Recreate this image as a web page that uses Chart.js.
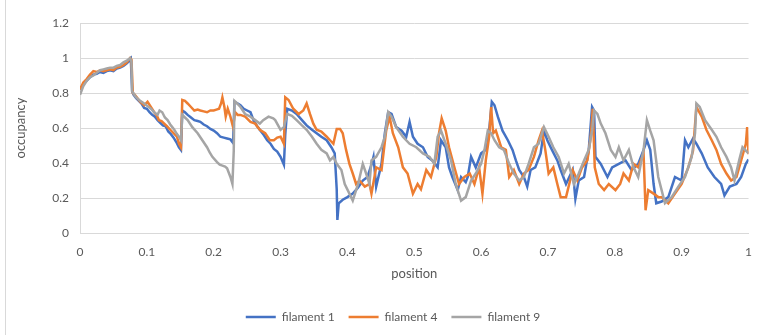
<!DOCTYPE html>
<html>
<head>
<meta charset="utf-8">
<script src="https://cdn.jsdelivr.net/npm/chart.js@4.4.0/dist/chart.umd.min.js"></script>
<style>
  html, body { margin: 0; padding: 0; background: #fff; }
  #wrap { position: relative; width: 764px; height: 335px; }
  #edge { position: absolute; left: 5px; top: 0; width: 1px; height: 335px; background: #d9d9d9; }
</style>
</head>
<body>
<div id="wrap"><div id="edge"></div><canvas id="occupancyChart"></canvas></div>
<script>
// [position, occupancy] readings per filament
const filament1 = [
  [0,0.82],[0.005,0.85],[0.01,0.87],[0.015,0.89],[0.02,0.905],[0.025,0.91],[0.03,0.92],[0.035,0.915],
  [0.04,0.925],[0.045,0.93],[0.05,0.925],[0.055,0.94],[0.06,0.945],[0.065,0.955],[0.07,0.97],[0.074,0.985],
  [0.076,0.995],[0.078,0.81],[0.08,0.79],[0.084,0.77],[0.088,0.755],[0.092,0.74],[0.096,0.715],[0.1,0.71],
  [0.104,0.69],[0.108,0.675],[0.112,0.665],[0.116,0.645],[0.12,0.63],[0.124,0.615],[0.128,0.61],[0.132,0.58],
  [0.136,0.565],[0.14,0.545],[0.144,0.52],[0.148,0.49],[0.151,0.475],[0.153,0.7],[0.157,0.69],[0.161,0.675],
  [0.166,0.66],[0.171,0.645],[0.176,0.64],[0.18,0.635],[0.185,0.62],[0.19,0.61],[0.195,0.595],[0.2,0.585],
  [0.205,0.57],[0.21,0.55],[0.215,0.545],[0.22,0.54],[0.225,0.535],[0.229,0.515],[0.231,0.75],[0.236,0.74],
  [0.24,0.73],[0.245,0.71],[0.25,0.7],[0.255,0.69],[0.26,0.64],[0.265,0.61],[0.27,0.585],[0.275,0.56],
  [0.28,0.53],[0.285,0.51],[0.29,0.48],[0.295,0.465],[0.3,0.435],[0.305,0.39],[0.307,0.56],[0.31,0.71],
  [0.317,0.7],[0.324,0.68],[0.332,0.645],[0.339,0.615],[0.347,0.59],[0.354,0.57],[0.361,0.55],[0.369,0.53],
  [0.376,0.49],[0.381,0.455],[0.384,0.25],[0.385,0.075],[0.387,0.17],[0.393,0.19],[0.4,0.205],[0.408,0.225],
  [0.416,0.26],[0.423,0.3],[0.43,0.32],[0.436,0.39],[0.439,0.435],[0.443,0.265],[0.451,0.395],[0.456,0.57],
  [0.461,0.69],[0.466,0.68],[0.473,0.605],[0.481,0.585],[0.488,0.55],[0.493,0.635],[0.498,0.55],[0.505,0.51],
  [0.513,0.49],[0.52,0.435],[0.527,0.415],[0.535,0.375],[0.54,0.53],[0.547,0.49],[0.552,0.375],[0.557,0.32],
  [0.565,0.245],[0.57,0.32],[0.577,0.29],[0.58,0.32],[0.585,0.435],[0.592,0.375],[0.6,0.455],[0.607,0.475],
  [0.612,0.585],[0.616,0.75],[0.62,0.73],[0.625,0.665],[0.632,0.585],[0.64,0.53],[0.647,0.475],[0.652,0.415],
  [0.657,0.36],[0.664,0.32],[0.669,0.265],[0.674,0.36],[0.681,0.375],[0.689,0.455],[0.694,0.585],[0.699,0.53],
  [0.706,0.475],[0.714,0.415],[0.719,0.36],[0.727,0.28],[0.737,0.36],[0.741,0.195],[0.746,0.3],[0.754,0.32],
  [0.761,0.475],[0.766,0.72],[0.769,0.7],[0.771,0.435],[0.779,0.395],[0.789,0.32],[0.796,0.375],[0.806,0.395],
  [0.816,0.415],[0.825,0.36],[0.835,0.395],[0.843,0.475],[0.848,0.53],[0.853,0.475],[0.858,0.28],[0.862,0.17],
  [0.87,0.18],[0.88,0.205],[0.89,0.32],[0.9,0.3],[0.905,0.53],[0.91,0.49],[0.917,0.54],[0.922,0.51],
  [0.93,0.455],[0.939,0.375],[0.949,0.32],[0.959,0.28],[0.964,0.215],[0.972,0.265],[0.982,0.28],[0.989,0.32],
  [0.996,0.395],[1,0.42]
];
const filament4 = [
  [0,0.82],[0.005,0.86],[0.01,0.88],[0.015,0.905],[0.02,0.925],[0.025,0.92],[0.03,0.93],[0.035,0.925],
  [0.04,0.93],[0.045,0.935],[0.05,0.93],[0.055,0.945],[0.06,0.95],[0.065,0.96],[0.07,0.975],[0.075,1.0],
  [0.077,0.99],[0.079,0.8],[0.082,0.79],[0.086,0.77],[0.09,0.75],[0.096,0.73],[0.101,0.75],[0.106,0.72],
  [0.111,0.69],[0.115,0.67],[0.118,0.645],[0.122,0.64],[0.126,0.625],[0.13,0.61],[0.135,0.59],[0.14,0.57],
  [0.145,0.55],[0.148,0.51],[0.151,0.49],[0.153,0.76],[0.157,0.755],[0.161,0.74],[0.166,0.72],[0.171,0.7],
  [0.176,0.705],[0.18,0.7],[0.185,0.695],[0.19,0.69],[0.195,0.7],[0.2,0.7],[0.204,0.705],[0.208,0.71],
  [0.211,0.74],[0.213,0.775],[0.216,0.72],[0.218,0.665],[0.221,0.71],[0.225,0.665],[0.229,0.605],[0.232,0.69],
  [0.236,0.675],[0.24,0.675],[0.247,0.665],[0.255,0.635],[0.262,0.625],[0.269,0.59],[0.277,0.57],[0.284,0.53],
  [0.29,0.53],[0.295,0.545],[0.3,0.55],[0.305,0.51],[0.307,0.775],[0.312,0.76],[0.319,0.71],[0.327,0.68],
  [0.334,0.7],[0.339,0.74],[0.344,0.68],[0.349,0.625],[0.354,0.59],[0.361,0.58],[0.369,0.55],[0.374,0.53],
  [0.379,0.51],[0.384,0.595],[0.389,0.595],[0.393,0.57],[0.398,0.475],[0.403,0.395],[0.408,0.34],[0.413,0.28],
  [0.418,0.3],[0.426,0.265],[0.433,0.28],[0.436,0.225],[0.443,0.375],[0.451,0.36],[0.458,0.585],[0.463,0.665],
  [0.468,0.57],[0.476,0.49],[0.483,0.375],[0.49,0.34],[0.498,0.225],[0.505,0.28],[0.51,0.25],[0.518,0.36],
  [0.525,0.32],[0.533,0.435],[0.537,0.57],[0.541,0.655],[0.547,0.585],[0.552,0.49],[0.56,0.375],[0.567,0.28],
  [0.575,0.32],[0.583,0.34],[0.59,0.28],[0.597,0.375],[0.602,0.225],[0.607,0.415],[0.612,0.55],[0.615,0.72],
  [0.618,0.57],[0.622,0.585],[0.63,0.49],[0.637,0.475],[0.642,0.32],[0.649,0.36],[0.657,0.28],[0.664,0.34],
  [0.671,0.36],[0.679,0.435],[0.686,0.53],[0.691,0.585],[0.696,0.475],[0.701,0.34],[0.708,0.375],[0.714,0.28],
  [0.719,0.205],[0.727,0.205],[0.737,0.36],[0.744,0.3],[0.751,0.375],[0.759,0.415],[0.764,0.55],[0.767,0.71],
  [0.77,0.375],[0.776,0.28],[0.784,0.245],[0.791,0.28],[0.801,0.245],[0.808,0.28],[0.813,0.34],[0.821,0.3],
  [0.828,0.395],[0.835,0.375],[0.843,0.455],[0.846,0.13],[0.85,0.245],[0.858,0.225],[0.865,0.205],[0.87,0.205],
  [0.88,0.17],[0.89,0.225],[0.9,0.28],[0.91,0.375],[0.917,0.47],[0.922,0.72],[0.93,0.665],[0.937,0.59],
  [0.945,0.53],[0.952,0.475],[0.959,0.395],[0.967,0.34],[0.974,0.3],[0.982,0.32],[0.989,0.415],[0.996,0.51],
  [0.998,0.605],[1,0.45]
];
const filament9 = [
  [0,0.79],[0.005,0.84],[0.01,0.87],[0.015,0.89],[0.02,0.9],[0.025,0.915],[0.03,0.93],[0.035,0.935],
  [0.04,0.94],[0.045,0.945],[0.05,0.945],[0.055,0.955],[0.06,0.96],[0.065,0.975],[0.07,0.985],[0.075,1.0],
  [0.077,0.98],[0.078,0.81],[0.084,0.775],[0.09,0.755],[0.096,0.74],[0.101,0.725],[0.106,0.71],[0.111,0.69],
  [0.116,0.675],[0.119,0.7],[0.123,0.69],[0.127,0.66],[0.131,0.645],[0.135,0.62],[0.138,0.605],[0.141,0.59],
  [0.145,0.565],[0.148,0.55],[0.151,0.53],[0.153,0.675],[0.157,0.66],[0.161,0.645],[0.168,0.605],[0.176,0.57],
  [0.183,0.53],[0.19,0.49],[0.194,0.46],[0.198,0.435],[0.205,0.405],[0.209,0.39],[0.213,0.385],[0.217,0.38],
  [0.22,0.37],[0.225,0.32],[0.228,0.28],[0.23,0.47],[0.231,0.755],[0.235,0.74],[0.24,0.72],[0.247,0.68],
  [0.255,0.665],[0.262,0.645],[0.269,0.625],[0.274,0.645],[0.282,0.665],[0.289,0.655],[0.292,0.645],[0.3,0.59],
  [0.305,0.605],[0.31,0.68],[0.317,0.67],[0.324,0.645],[0.332,0.615],[0.339,0.59],[0.347,0.55],[0.354,0.51],
  [0.361,0.475],[0.369,0.455],[0.374,0.415],[0.379,0.435],[0.384,0.395],[0.391,0.36],[0.396,0.28],[0.403,0.225],
  [0.408,0.185],[0.416,0.28],[0.423,0.395],[0.428,0.34],[0.433,0.28],[0.436,0.415],[0.443,0.435],[0.451,0.49],
  [0.456,0.55],[0.461,0.69],[0.466,0.665],[0.473,0.605],[0.483,0.55],[0.493,0.51],[0.503,0.49],[0.513,0.455],
  [0.523,0.435],[0.53,0.395],[0.535,0.55],[0.54,0.585],[0.547,0.51],[0.555,0.415],[0.562,0.28],[0.57,0.185],
  [0.577,0.205],[0.585,0.3],[0.592,0.34],[0.6,0.395],[0.605,0.475],[0.61,0.585],[0.615,0.57],[0.62,0.53],
  [0.627,0.49],[0.634,0.475],[0.642,0.395],[0.649,0.34],[0.657,0.3],[0.664,0.32],[0.671,0.395],[0.679,0.49],
  [0.686,0.51],[0.694,0.605],[0.701,0.55],[0.708,0.49],[0.716,0.435],[0.724,0.34],[0.731,0.395],[0.739,0.28],
  [0.746,0.34],[0.754,0.415],[0.761,0.475],[0.766,0.585],[0.769,0.7],[0.774,0.68],[0.779,0.625],[0.786,0.57],
  [0.794,0.475],[0.801,0.435],[0.806,0.49],[0.813,0.415],[0.821,0.475],[0.828,0.375],[0.835,0.32],[0.843,0.475],
  [0.848,0.645],[0.853,0.585],[0.858,0.53],[0.865,0.32],[0.87,0.245],[0.875,0.17],[0.885,0.205],[0.895,0.265],
  [0.905,0.32],[0.915,0.435],[0.92,0.57],[0.922,0.74],[0.927,0.72],[0.935,0.645],[0.945,0.59],[0.952,0.55],
  [0.959,0.49],[0.967,0.435],[0.974,0.375],[0.979,0.3],[0.986,0.415],[0.991,0.49],[1,0.455]
];

const seriesNames = ['filament 1', 'filament 4', 'filament 9'];
const seriesColors = ['#4472c4', '#ed7d31', '#a5a5a5'];
const xTicks = { min: 0, max: 1, step: 0.1 };
const yTicks = { min: 0, max: 1.2, step: 0.2 };

const toPoints = (pairs) => pairs.map(([x, y]) => ({ x, y }));
// Excel style: 1 not 1.0
const plainLabel = (v) => String(Number(v.toFixed(1)));

const tickFont = { family: 'Lato, "Open Sans", sans-serif', size: 12 };
const titleFont = { family: 'Lato, "Open Sans", sans-serif', size: 13 };

// shift the legend a bit right, like the original
const nudgeLegend = {
  id: 'nudgeLegend',
  afterLayout(chart) {
    chart.legend.left += 12;
    chart.legend.right += 12;
  }
};

new Chart(document.getElementById('occupancyChart'), {
  type: 'line',
  data: {
    datasets: [filament1, filament4, filament9].map((pairs, i) => ({
      label: seriesNames[i],
      data: toPoints(pairs),
      borderColor: seriesColors[i],
      backgroundColor: seriesColors[i],
      borderWidth: 2.5,
      pointRadius: 0,
      pointStyle: 'line',
      tension: 0,
      order: 3 - i
    }))
  },
  options: {
    responsive: true,
    maintainAspectRatio: false,
    animation: false,
    layout: { padding: { left: 8, right: 10, top: 23, bottom: 2 } },
    plugins: {
      tooltip: { enabled: false },
      legend: {
        position: 'bottom',
        labels: {
          usePointStyle: true,
          pointStyleWidth: 30,
          padding: 14,
          color: '#595959',
          font: tickFont,
          sort: (a, b) => a.datasetIndex - b.datasetIndex
        }
      }
    },
    scales: {
      x: {
        type: 'linear',
        min: xTicks.min,
        max: xTicks.max,
        afterFit: (s) => { s.height = 64; },
        grid: { display: false, drawTicks: false },
        border: { display: true, color: '#d9d9d9' },
        ticks: { stepSize: xTicks.step, padding: 12, color: '#595959', font: tickFont, maxRotation: 0, callback: plainLabel },
        title: { display: true, text: 'position', color: '#595959', font: titleFont, padding: { top: 4, bottom: 15 } }
      },
      y: {
        min: yTicks.min,
        max: yTicks.max,
        afterFit: (s) => { s.width = 72; },
        grid: { color: '#d9d9d9', drawTicks: false },
        border: { display: true, color: '#d9d9d9' },
        ticks: { stepSize: yTicks.step, padding: 11, color: '#595959', font: tickFont, callback: plainLabel },
        title: { display: true, text: 'occupancy', color: '#595959', font: titleFont, padding: { top: 5, bottom: 0 } }
      }
    }
  },
  plugins: [nudgeLegend]
});
</script>
</body>
</html>
